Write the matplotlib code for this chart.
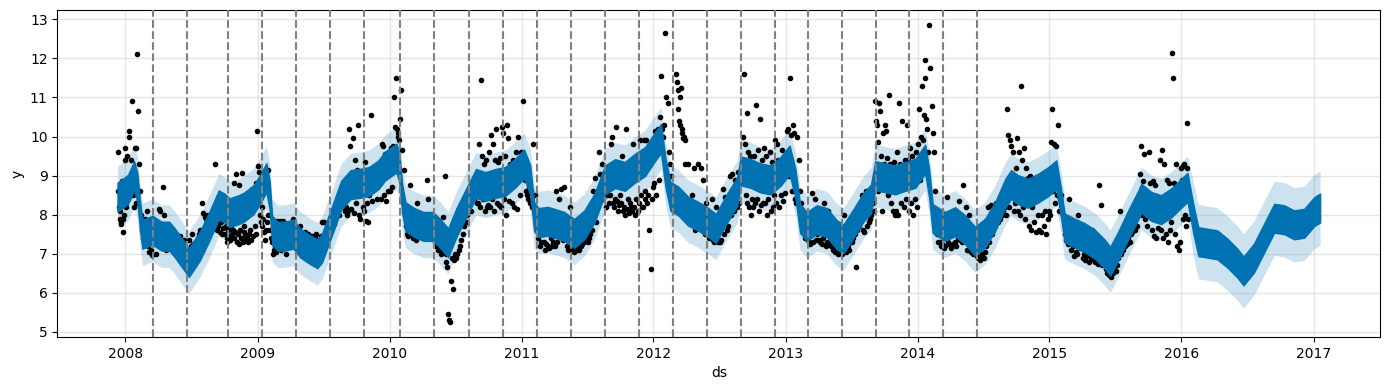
import pandas as pd
import numpy as np
import matplotlib
matplotlib.use("Agg")
import matplotlib.pyplot as plt
import matplotlib.dates as mdates

# ---------------- data ----------------
first_obs = "2007-12-10"
last_obs = "2016-01-20"

# observed values, per year, one list per month (Dec 2007 .. Jan 2016)
obs_2007 = [[9.6, 8.6, 8.2, 7.9, 8.1, 7.8, 7.75, 8.85, 7.9, 7.55, 8.0, 9.7, 9.4]]
obs_2008 = [
    [8.2, 8.3, 9.5, 8.4, 10.0, 10.15, 8.5, 8.6, 9.4, 10.9, 8.6, 8.5, 8.2, 9.7, 9.7, 8.3],
    [12.1, 10.65, 9.3, 8.6, 8.0, 7.6, 7.4, 7.3, 7.9, 7.35, 8.1],
    [7.2, 7.05, 7.1, 6.98, 7.3, 7.5, 7.0, 7.6],
    [8.15, 8.1, 7.4, 8.7, 8.0, 7.1, 7.3, 7.5],
    [7.4, 7.3, 7.1, 7.5, 7.0, 7.2, 7.45],
    [7.3, 7.2, 7.35, 7.0, 7.1, 6.9, 7.35, 7.2],
    [7.5, 7.25, 7.2, 7.3, 7.4, 7.5, 7.6, 8.3],
    [8.05, 7.95, 7.9, 8.0, 7.7, 7.9, 8.0, 8.1],
    [7.9, 9.3, 7.8, 7.6, 7.7, 7.55, 7.8, 7.5, 7.65, 8.2],
    [7.5, 7.7, 7.4, 7.3, 7.6, 7.45, 7.35, 7.7, 7.5, 7.6, 8.8, 7.4, 7.55],
    [9.05, 7.3, 7.5, 8.75, 7.25, 7.6, 7.4, 9.07, 7.3, 7.55, 7.7, 7.45, 7.35],
    [7.4, 7.3, 7.5, 7.6, 8.1, 7.35, 8.65, 7.45, 8.55, 7.7, 7.5, 8.8, 10.15],
]
obs_2009 = [
    [9.25, 9.1, 8.0, 7.8, 8.2, 7.7, 7.9, 7.55, 7.35, 7.6, 7.8, 9.15, 8.0],
    [7.6, 7.4, 7.3, 7.0, 7.1, 7.2, 7.05, 7.85, 7.5],
    [7.85, 7.1, 7.85, 7.2, 7.0, 7.65, 7.3],
    [7.6, 7.9, 7.8, 7.45, 7.55, 7.3, 7.7],
    [7.5, 7.45, 7.55, 7.4, 7.5, 7.35, 7.45],
    [7.45, 7.4, 7.5, 7.35, 7.3, 7.45, 7.8],
    [7.8, 7.5, 7.4, 7.6, 7.7, 7.9, 7.75],
    [7.9, 8.1, 8.4, 8.0, 8.35, 8.7, 8.2, 8.1],
    [8.2, 8.0, 8.1, 10.2, 9.75, 8.15, 9.95, 8.05, 9.4, 8.3],
    [9.15, 10.3, 8.0, 7.9, 9.1, 8.2, 8.1, 9.35, 7.85, 8.3],
    [7.8, 8.5, 9.05, 10.55, 8.35, 9.15, 8.9, 9.2, 8.4, 9.25],
    [9.2, 9.3, 8.4, 9.8, 9.75, 8.5, 9.55, 8.35, 9.35, 8.6, 9.25],
]
obs_2010 = [
    [8.6, 9.7, 8.7, 9.75, 11.0, 10.25, 11.5, 10.2, 10.1, 10.0, 9.9, 10.45],
    [11.2, 9.65, 9.15, 8.2, 7.7, 7.5, 7.45, 7.6, 8.75],
    [7.5, 7.4, 7.6, 7.35, 8.3, 7.45, 7.55, 7.8],
    [7.6, 7.5, 7.95, 8.9, 8.4, 7.7, 7.55, 7.45],
    [7.4, 7.3, 7.2, 7.1, 7.15, 7.0, 7.05, 7.95],
    [9.0, 6.8, 7.0, 6.65, 5.45, 5.3, 5.25, 6.3, 6.9, 6.1, 6.85, 7.0],
    [6.9, 7.0, 7.1, 7.2, 7.35, 7.5, 7.7, 7.8],
    [8.0, 8.2, 8.5, 8.1, 8.6, 8.4, 8.85, 8.3],
    [8.3, 9.8, 8.2, 11.45, 9.5, 8.4, 9.3, 8.1, 9.4, 8.2, 8.25],
    [9.6, 8.2, 10.05, 8.4, 9.8, 8.1, 9.4, 10.2, 8.3, 9.35, 8.25],
    [9.45, 8.2, 10.25, 10.1, 8.4, 9.5, 8.0, 10.3, 9.95, 8.35, 9.3],
    [9.2, 8.3, 9.4, 8.2, 9.3, 9.6, 8.15, 10.0, 9.35, 8.5, 9.6],
]
obs_2011 = [
    [9.1, 10.9, 9.0, 8.9, 8.6, 8.5, 8.4, 8.7, 8.3, 8.6, 8.2],
    [9.8, 8.5, 8.0, 7.6, 7.4, 7.2, 7.3, 7.5],
    [7.3, 7.1, 7.25, 7.2, 7.15, 7.4, 7.2, 7.3],
    [7.2, 8.6, 7.3, 8.4, 7.45, 8.65, 7.35, 8.7],
    [7.4, 7.2, 7.1, 8.2, 7.15, 7.1, 7.05, 7.2],
    [7.1, 7.15, 7.1, 7.2, 7.25, 7.3, 7.35, 7.4],
    [7.3, 7.4, 7.5, 7.6, 8.6, 8.95, 7.8, 8.3],
    [9.6, 9.05, 9.3, 8.4, 8.85, 8.2, 8.5, 8.3],
    [8.5, 9.8, 10.0, 8.3, 8.2, 8.4, 10.25, 8.35, 8.1, 8.25, 8.5],
    [8.3, 9.5, 8.1, 8.2, 8.0, 10.2, 8.15, 8.4, 8.05, 8.3, 8.2],
    [8.1, 9.8, 8.2, 8.0, 8.4, 9.45, 8.1, 8.3, 9.9, 8.5, 8.2],
    [8.2, 9.9, 8.4, 8.6, 9.9, 8.3, 8.5, 7.6, 9.7, 6.6, 8.4, 8.7],
]
obs_2012 = [
    [8.8, 10.15, 8.5, 9.8, 10.2, 8.9, 10.5, 11.55, 10.2, 10.0, 10.3],
    [12.65, 11.0, 10.85, 9.6, 9.3, 9.0, 8.5, 8.7, 8.3],
    [8.6, 11.6, 11.4, 10.7, 11.2, 10.4, 11.0, 10.3, 11.25, 10.2, 10.1, 9.95, 10.0, 9.9, 9.3, 8.4],
    [8.4, 9.3, 8.3, 7.8, 8.5, 9.2, 7.6, 8.1],
    [9.3, 7.9, 9.2, 7.6, 8.9, 7.5, 8.3, 7.55],
    [7.4, 7.5, 8.4, 7.35, 7.3, 8.2, 7.45, 7.3],
    [7.3, 7.35, 8.65, 7.5, 8.45, 7.6, 7.7, 9.0],
    [8.0, 9.05, 8.1, 8.9, 8.2, 9.1, 8.3, 8.95],
    [9.3, 10.0, 11.6, 9.8, 8.5, 10.6, 8.3, 9.6, 8.2, 9.5, 8.0, 8.4],
    [8.2, 9.5, 8.3, 10.8, 8.4, 9.65, 8.1, 10.45, 8.25, 9.4, 8.3],
    [9.7, 8.3, 9.5, 8.0, 8.4, 9.6, 8.1, 9.35, 8.2, 8.5],
    [9.9, 8.3, 9.8, 9.4, 8.2, 9.3, 8.5, 9.65, 8.35, 9.25, 8.55],
]
obs_2013 = [
    [9.5, 10.15, 10.2, 9.0, 11.5, 10.05, 8.6, 10.3, 10.1, 8.4, 8.3],
    [10.0, 9.4, 8.6, 8.3, 7.9, 7.7, 7.55, 7.4, 7.5],
    [7.35, 7.3, 7.25, 8.55, 7.3, 8.4, 7.35, 7.5],
    [7.35, 7.3, 7.25, 7.4, 8.3, 7.2, 7.3, 8.1],
    [7.3, 7.2, 7.1, 7.15, 7.05, 7.1, 7.0, 7.05],
    [7.1, 7.0, 8.0, 7.1, 7.05, 7.2, 7.1, 7.3],
    [7.3, 7.4, 7.5, 6.65, 7.6, 7.7, 8.2, 8.5],
    [7.6, 7.55, 8.6, 7.7, 7.8, 7.9, 8.0, 8.3],
    [8.1, 10.9, 10.4, 10.3, 9.85, 8.6, 10.85, 10.65, 9.5, 8.1, 10.1, 9.3],
    [10.3, 10.15, 9.45, 8.5, 11.05, 9.3, 8.3, 9.2, 8.1, 9.35, 8.0],
    [8.1, 9.6, 8.0, 10.85, 9.3, 8.3, 10.4, 9.2, 8.2, 9.4, 8.4],
    [10.3, 9.4, 8.1, 9.7, 8.3, 9.5, 8.0, 9.25, 8.4, 9.6, 8.2],
]
obs_2014 = [
    [9.8, 10.7, 8.9, 10.0, 11.3, 9.9, 10.55, 11.95, 11.5, 10.45, 10.2, 9.6],
    [12.85, 11.75, 10.78, 10.1, 9.6, 8.6, 7.9, 7.5, 7.3],
    [7.3, 7.2, 7.25, 7.15, 7.2, 8.45, 7.3, 7.25],
    [7.15, 7.2, 7.25, 7.3, 7.2, 7.4, 8.35, 7.35],
    [7.3, 8.75, 7.4, 8.2, 7.1, 8.0, 7.2, 7.05],
    [7.0, 7.05, 7.3, 6.95, 6.9, 6.85, 6.9, 7.0],
    [6.9, 7.05, 7.2, 8.2, 7.3, 8.25, 7.5, 7.6],
    [7.7, 8.3, 7.8, 8.35, 7.9, 8.0, 8.1, 8.2],
    [8.0, 10.7, 10.05, 8.2, 9.9, 9.75, 8.6, 9.6, 8.1, 8.3, 9.2],
    [9.95, 8.1, 9.6, 8.0, 11.3, 9.4, 8.2, 9.7, 7.9, 9.2, 8.3],
    [8.95, 7.7, 9.0, 7.6, 8.2, 8.9, 7.8, 7.55, 8.9, 8.0],
    [7.6, 8.9, 7.55, 8.0, 9.05, 7.7, 8.1, 7.5, 8.85, 7.9, 8.1],
]
obs_2015 = [
    [8.0, 9.85, 10.7, 8.6, 9.8, 8.3, 9.75, 8.5, 10.3, 8.1, 8.4],
    [8.5, 8.0, 7.9, 7.5, 7.35, 7.25, 8.4, 7.4],
    [7.1, 7.2, 6.95, 7.05, 7.0, 8.0, 7.15, 7.7],
    [6.9, 7.0, 6.85, 6.95, 7.3, 6.8, 6.9, 7.6],
    [6.85, 6.8, 7.3, 6.75, 8.75, 8.25, 6.7, 6.8],
    [6.7, 6.6, 6.5, 6.45, 6.55, 6.4, 6.5, 6.6],
    [6.55, 6.7, 6.9, 8.1, 7.0, 7.1, 7.3, 7.2],
    [7.25, 7.4, 7.3, 7.5, 7.55, 7.65, 7.6, 7.7],
    [8.0, 8.5, 9.05, 9.75, 8.0, 8.85, 9.55, 7.9, 8.2, 7.7, 8.3],
    [9.6, 8.8, 8.0, 7.6, 8.85, 7.45, 8.75, 7.4, 8.3, 7.65, 8.1],
    [9.4, 7.6, 9.65, 7.4, 9.3, 8.0, 7.5, 8.9, 7.3, 8.8, 7.6],
    [7.8, 12.15, 11.5, 8.8, 7.5, 9.3, 7.2, 8.7, 7.1, 7.3, 9.2],
]
obs_2016 = [[8.9, 9.25, 7.9, 9.3, 8.0, 7.7, 10.35, 9.2, 7.9]]

# forecast (trend + yearly) centre line, read at irregular dates
band_dates = [
    "2007-12-10", "2007-12-25", "2008-01-08", "2008-01-25", "2008-02-03", "2008-02-10", "2008-02-17",
    "2008-03-01", "2008-03-16", "2008-04-10", "2008-05-01", "2008-05-15", "2008-06-01", "2008-06-25",
    "2008-07-25", "2008-08-20", "2008-09-15", "2008-10-01", "2008-10-15", "2008-11-10", "2008-11-25",
    "2008-12-20", "2009-01-08", "2009-01-25", "2009-02-03", "2009-02-10", "2009-02-25", "2009-03-15",
    "2009-04-10", "2009-04-28", "2009-05-25", "2009-06-15", "2009-06-28", "2009-07-25", "2009-08-20",
    "2009-09-15", "2009-10-10", "2009-11-05", "2009-12-01", "2009-12-20", "2010-01-20", "2010-01-28",
    "2010-02-05", "2010-02-14", "2010-03-10", "2010-04-05", "2010-05-01", "2010-05-20", "2010-06-12",
    "2010-07-05", "2010-08-01", "2010-08-28", "2010-09-23", "2010-10-21", "2010-11-17", "2010-12-14",
    "2011-01-08", "2011-01-25", "2011-02-05", "2011-02-17", "2011-03-15", "2011-04-12", "2011-04-29",
    "2011-05-27", "2011-06-24", "2011-07-22", "2011-08-20", "2011-09-17", "2011-10-14", "2011-11-11",
    "2011-12-09", "2012-01-06", "2012-01-22", "2012-02-03", "2012-02-17", "2012-03-10", "2012-04-06",
    "2012-05-04", "2012-06-01", "2012-06-22", "2012-07-23", "2012-08-20", "2012-08-30", "2012-09-25",
    "2012-10-23", "2012-11-20", "2012-12-18", "2013-01-12", "2013-01-28", "2013-02-10", "2013-03-01",
    "2013-03-28", "2013-04-25", "2013-05-22", "2013-06-10", "2013-07-08", "2013-08-05", "2013-08-25",
    "2013-09-06", "2013-10-04", "2013-10-31", "2013-11-28", "2013-12-26", "2014-01-22", "2014-02-02",
    "2014-02-12", "2014-03-18", "2014-04-15", "2014-05-12", "2014-06-09", "2014-07-07", "2014-08-04",
    "2014-09-01", "2014-09-17", "2014-10-06", "2014-11-03", "2014-12-01", "2014-12-29", "2015-01-20",
    "2015-02-02", "2015-02-12", "2015-03-12", "2015-04-09", "2015-05-07", "2015-06-04", "2015-06-18",
    "2015-07-10", "2015-08-07", "2015-09-04", "2015-09-12", "2015-10-10", "2015-11-06", "2015-12-04",
    "2016-01-01", "2016-01-18", "2016-02-03", "2016-02-17", "2016-03-13", "2016-04-09", "2016-05-07",
    "2016-06-04", "2016-06-21", "2016-07-20", "2016-08-17", "2016-09-14", "2016-10-12", "2016-11-08",
    "2016-12-06", "2017-01-03", "2017-01-19",
]
band_mid = [
    8.45, 8.55, 8.65, 9.0, 8.7, 8.0, 7.5,
    7.55, 7.6, 7.45, 7.45, 7.3, 7.08, 6.78,
    7.2, 7.7, 8.25, 8.17, 8.05, 8.13, 8.2,
    8.38, 8.65, 8.95, 8.5, 7.6, 7.45, 7.45,
    7.5, 7.28, 7.11, 7.0, 7.15, 7.83, 8.5,
    8.77, 8.8, 8.85, 9.02, 9.25, 9.45, 9.2,
    8.4, 7.95, 7.8, 7.7, 7.7, 7.53, 7.28,
    7.8, 8.3, 8.8, 8.72, 8.8, 8.85, 9.06,
    9.3, 8.9, 7.95, 7.8, 7.83, 7.75, 7.7,
    7.52, 7.74, 8.17, 8.89, 9.05, 8.98, 9.19,
    9.36, 9.75, 9.95, 9.1, 8.47, 8.35, 8.09,
    7.96, 7.8, 7.65, 8.17, 8.59, 9.12, 9.06,
    8.94, 8.89, 9.11, 9.4, 8.8, 7.9, 7.7,
    7.87, 7.8, 7.49, 7.38, 7.78, 8.2, 8.4,
    9.0, 8.94, 8.89, 8.98, 9.06, 9.42, 8.8,
    7.9, 7.7, 7.82, 7.62, 7.32, 7.53, 7.96,
    8.55, 8.77, 8.64, 8.55, 8.68, 8.85, 9.02,
    8.3, 7.66, 7.53, 7.41, 7.24, 6.98, 6.81,
    7.19, 7.74, 8.25, 8.42, 8.21, 8.13, 8.3,
    8.55, 8.7, 7.9, 7.31, 7.27, 7.23, 7.02,
    6.76, 6.56, 6.89, 7.4, 7.91, 7.87, 7.74,
    7.78, 8.08, 8.17,
]
weekly_halfwidth = 0.37      # half spread of the daily forecast line (weekly cycle)
interval_hist = 0.8          # half width of uncertainty interval over the history
interval_future = 0.95       # half width of uncertainty interval in the forecast

changepoints = [
    "2008-03-17", "2008-06-19", "2008-10-11", "2009-01-13", "2009-04-17", "2009-07-19",
    "2009-10-22", "2010-01-30", "2010-05-04", "2010-08-08", "2010-11-10", "2011-02-12",
    "2011-05-17", "2011-08-19", "2011-11-22", "2012-02-24", "2012-05-28", "2012-08-30",
    "2012-12-02", "2013-03-04", "2013-06-06", "2013-09-08", "2013-12-08", "2014-03-12",
    "2014-06-14",
]

# ---------------- build observation dates ----------------
t0 = pd.Timestamp(first_obs)
t1 = pd.Timestamp(last_obs) + pd.Timedelta(days=1)


def month_points(year, month, vals):
    start = pd.Timestamp(year=year, month=month, day=1)
    end = start + pd.offsets.MonthBegin(1)
    start = max(start, t0)
    end = min(end, t1)
    span = end - start
    n = len(vals)
    return [start + span * ((i + 0.5) / n) for i in range(n)], list(vals)


obs_x, obs_y = [], []
blocks = [(2007, 12, obs_2007), (2008, 1, obs_2008), (2009, 1, obs_2009), (2010, 1, obs_2010),
          (2011, 1, obs_2011), (2012, 1, obs_2012), (2013, 1, obs_2013), (2014, 1, obs_2014),
          (2015, 1, obs_2015), (2016, 1, obs_2016)]
for year, m0, months in blocks:
    for k, vals in enumerate(months):
        d, v = month_points(year, m0 + k, vals)
        obs_x += d
        obs_y += v

bd = pd.to_datetime(band_dates)
mid = np.array(band_mid)
ihw = np.where(bd > pd.Timestamp(last_obs), interval_future, interval_hist)

# ---------------- plot ----------------
fig = plt.figure(figsize=(13.89, 3.9), dpi=100, facecolor="w")
ax = fig.add_axes([0.0413, 0.1359, 0.9524, 0.8377])
ax.fill_between(bd, mid - ihw, mid + ihw, color="#0072B2", alpha=0.2, linewidth=0, zorder=1)
ax.plot(obs_x, obs_y, "k.", zorder=2)
ax.fill_between(bd, mid - weekly_halfwidth, mid + weekly_halfwidth, color="#0072B2",
                linewidth=1.0, edgecolor="#0072B2", zorder=2.5)
for cp in changepoints:
    ax.axvline(pd.Timestamp(cp), c="gray", ls="--", zorder=3)

ax.xaxis.set_major_locator(mdates.YearLocator())
ax.xaxis.set_major_formatter(mdates.DateFormatter("%Y"))
ax.grid(True, which="major", c="gray", ls="-", lw=1, alpha=0.2)
ax.set_xlabel("ds")
ax.set_ylabel("y")
fig.savefig("out.png", dpi=100)
